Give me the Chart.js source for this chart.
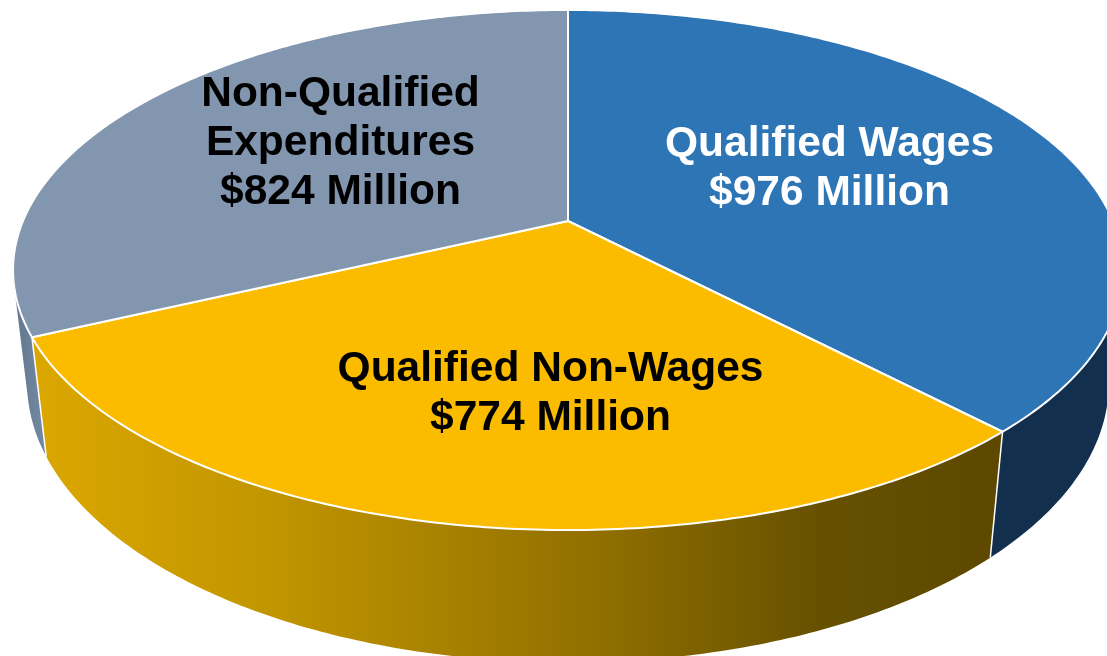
<!DOCTYPE html>
<html><head><meta charset="utf-8">
<style>html,body{margin:0;padding:0;background:#fff;overflow:hidden}canvas{display:block}</style>
<script src="https://cdn.jsdelivr.net/npm/chart.js@4/dist/chart.umd.min.js"></script>
</head><body>
<canvas id="c" width="1107" height="656"></canvas>
<script>
const categories = ['Qualified Wages', 'Qualified Non-Wages', 'Non-Qualified Expenditures'];
const values = [976, 774, 824];
const sliceColors = ['#2E75B6', '#FBBC00', '#8296B0'];
const labelLines = [['Qualified Wages', '$976 Million'], ['Qualified Non-Wages', '$774 Million'], ['Non-Qualified', 'Expenditures', '$824 Million']];
const labelColors = ['#FFFFFF', '#000000', '#000000'];
const labelCenters = [[829.5, 144], [550.5, 369], [340.5, 94]];

const TOP = {cx:568, cy:221, a:545, b:250.8, k:0.1885};
const BOT = {cx:568, cy:331.6, a:531.6, b:270, k:0.184};
function proj(P, t){
  const th = t + Math.PI/2, u = Math.sin(th), v = -Math.cos(th), w = 1 - P.k*v;
  return [P.cx + P.a*u/w, P.cy + P.b*v/w];
}
function rim(ctx, P, t0, t1){
  const n = Math.max(2, Math.ceil(Math.abs(t1-t0)*80));
  for(let i=0;i<=n;i++){
    const p = proj(P, t0+(t1-t0)*i/n);
    ctx.lineTo(p[0],p[1]);
  }
}
Chart.ArcElement.prototype.draw = function(ctx){
  const o = this.options;
  ctx.save();
  ctx.beginPath();
  ctx.moveTo(TOP.cx, TOP.cy);
  rim(ctx, TOP, this.startAngle, this.endAngle);
  ctx.closePath();
  ctx.fillStyle = o.backgroundColor;
  ctx.fill();
  ctx.strokeStyle = '#FFFFFF'; ctx.lineWidth = 2; ctx.lineJoin='round';
  ctx.stroke();
  ctx.restore();
};
function grad(ctx, x0, x1, stops){
  const g = ctx.createLinearGradient(x0,0,x1,0);
  stops.forEach(s=>g.addColorStop(s[0],s[1]));
  return g;
}
const walls = {
  id:'walls',
  beforeDatasetsDraw(chart){
    const ctx = chart.ctx, arcs = chart.getDatasetMeta(0).data;
    const fills = [
      '#132F4E',
      grad(ctx,20,1000,[[0,'#DDA800'],[0.25,'#C29600'],[0.6,'#8F6E00'],[0.82,'#665000'],[1,'#5E4800']]),
      grad(ctx,15,46,[[0,'#63778F'],[1,'#748AA4']])
    ];
    arcs.forEach((arc,i)=>{
      const n = Math.ceil((arc.endAngle-arc.startAngle)*80);
      ctx.save();
      ctx.fillStyle = fills[i];
      ctx.beginPath();
      for(let s=0;s<n;s++){
        const t0 = arc.startAngle+(arc.endAngle-arc.startAngle)*s/n;
        const t1 = arc.startAngle+(arc.endAngle-arc.startAngle)*(s+1)/n;
        let q=[proj(TOP,t0), proj(TOP,t1), proj(BOT,t1), proj(BOT,t0)];
        let area=0;
        q.forEach((p,j)=>{const r=q[(j+1)%4]; area+=p[0]*r[1]-r[0]*p[1];});
        if(area<0) q.reverse();
        ctx.moveTo(q[0][0],q[0][1]);
        for(let j=1;j<4;j++) ctx.lineTo(q[j][0],q[j][1]);
        ctx.closePath();
      }
      ctx.fill('nonzero');
      ctx.restore();
    });
    [0,1].forEach(i=>{
      const a = proj(TOP, arcs[i].endAngle), b = proj(BOT, arcs[i].endAngle);
      ctx.save();ctx.strokeStyle='#FFFFFF';ctx.lineWidth=1.5;ctx.beginPath();ctx.moveTo(a[0],a[1]);ctx.lineTo(b[0],b[1]);ctx.stroke();ctx.restore();
    });
  },
  afterDatasetsDraw(chart){
    const ctx = chart.ctx;
    ctx.save();
    ctx.font = 'bold 42.5px "Liberation Sans", Arial, sans-serif';
    ctx.textAlign='center'; ctx.textBaseline='middle';
    labelLines.forEach((lines,i)=>{
      ctx.fillStyle = labelColors[i];
      lines.forEach((s,j)=>ctx.fillText(s, labelCenters[i][0], labelCenters[i][1]+j*49));
    });
    ctx.restore();
  }
};
new Chart(document.getElementById('c'), {
  type:'pie',
  data:{labels:categories, datasets:[{data:values, backgroundColor:sliceColors}]},
  options:{responsive:false, animation:false, layout:{padding:0},
    plugins:{legend:{display:false}, tooltip:{enabled:false}}},
  plugins:[walls]
});
</script>
</body></html>
